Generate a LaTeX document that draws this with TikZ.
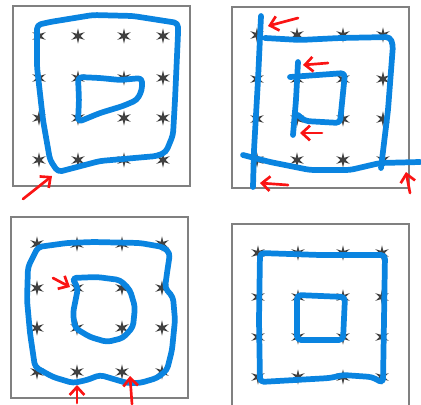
\documentclass[tikz,border=0pt]{standalone}
\usetikzlibrary{shapes.geometric,arrows.meta}
\definecolor{penblue}{RGB}{10,132,224}
\definecolor{penred}{RGB}{250,20,20}
\tikzset{
  frame/.style={draw=black!50, line width=1.5pt},
  trace/.style={draw=penblue, line width=4.3pt, line cap=round, line join=round, rounded corners=3pt},
  hint/.style={draw=penred, line width=2pt, line cap=round, -{Straight Barb[length=6pt,width=11pt]}},
  pin/.style={star, star points=6, star point ratio=3, minimum size=11.5pt, inner sep=0pt, fill=black!75}
}
\begin{document}
\begin{tikzpicture}[x=0.75pt,y=-0.75pt]
  \useasboundingbox (0,0) rectangle (421,404);
  % top left
  \begin{scope}
    \draw[frame] (13,6) rectangle (190,186);
    \foreach \x in {39,78,124,163}
      \foreach \y in {36,78,118,160}
        \node[pin] at (\x,\y) {};
    \draw[trace] (37,25) -- (50,22) -- (93,15) -- (133,16) -- (178,23) -- (178,34) -- (175,100) -- (173,135) -- (166,152) -- (157,156) -- (100,161) -- (58,172) -- (50,160) -- (43,120) -- (37,67) -- cycle;
    \draw[trace] (78,77) -- (100,78) -- (120,80) -- (142,78) -- (142,90) -- (137,100) -- (123,106) -- (100,113) -- (78,122) -- (79,100) -- cycle;
    \draw[hint] (23,199) -- (52,176);
  \end{scope}
  % top right
  \begin{scope}
    \draw[frame] (232,7) rectangle (409,188);
    \foreach \x in {257,297,343,383}
      \foreach \y in {35,79,119,160}
        \node[pin] at (\x,\y) {};
    \draw[trace] (261,16) -- (258,80) -- (254,150) -- (253,187);
    \draw[trace] (265,38) -- (300,40) -- (340,38) -- (390,37) -- (393,45) -- (388,110) -- (381,168);
    \draw[trace] (243,155) -- (270,162) -- (310,170) -- (350,170) -- (380,163) -- (420,162);
    \draw[trace] (298,62) -- (296,100) -- (293,135);
    \draw[trace] (290,77) -- (345,73) -- (340,123) -- (305,121) -- (298,115);
    \draw[hint] (298,18) -- (268,26);
    \draw[hint] (328,63) -- (303,65);
    \draw[hint] (322,133) -- (300,133);
    \draw[hint] (288,185) -- (260,183);
    \draw[hint] (410,193) -- (406,172);
  \end{scope}
  % bottom left
  \begin{scope}
    \draw[frame] (11,217) rectangle (188,398);
    \foreach \x in {37,77,122,162}
      \foreach \y in {244,288,328,372}
        \node[pin] at (\x,\y) {};
    \draw[trace] (38,247) -- (67,243) -- (93,242) -- (140,243) -- (163,247) -- (170,253) -- (167,273) -- (165,288) -- (173,297) -- (175,320) -- (172,350) -- (167,370) -- (157,378) -- (140,383) -- (127,383) -- (100,375) -- (87,380) -- (73,383) -- (53,377) -- (35,367) -- (30,333) -- (27,300) -- (28,267) -- cycle;
    \draw[trace] (72,278) -- (97,277) -- (120,280) -- (130,290) -- (135,307) -- (133,327) -- (123,338) -- (107,342) -- (90,337) -- (75,328) -- (73,313) -- (78,288) -- cycle;
    \draw[hint] (53,278) -- (70,287);
    \draw[hint] (77,403) -- (77,385);
    \draw[hint] (132,404) -- (130,376);
  \end{scope}
  % bottom right
  \begin{scope}
    \draw[frame] (232,224) rectangle (409,410);
    \foreach \x in {258,298,343,382}
      \foreach \y in {253,297,337,377}
        \node[pin] at (\x,\y) {};
    \draw[trace] (260,253) -- (320,255) -- (385,255) -- (384,320) -- (383,383) -- (372,377) -- (343,375) -- (330,378) -- (260,382) -- (259,320) -- cycle;
    \draw[trace] (297,295) -- (345,297) -- (343,340) -- (297,340) -- cycle;
  \end{scope}
\end{tikzpicture}
\end{document}
